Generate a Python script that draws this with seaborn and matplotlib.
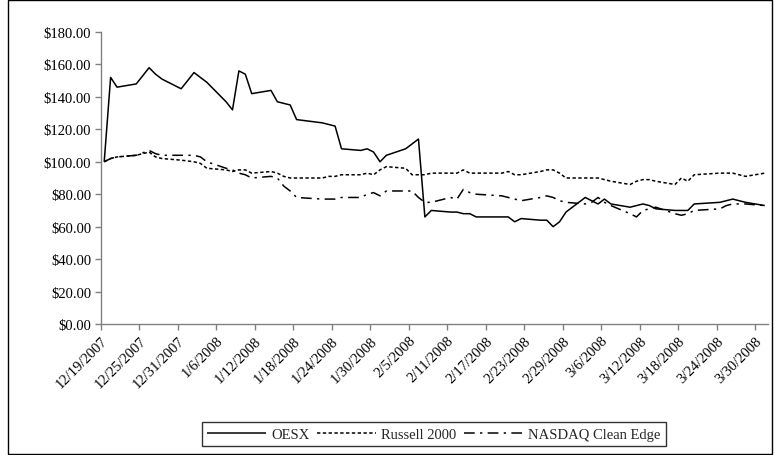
import matplotlib
matplotlib.use("Agg")
import matplotlib.pyplot as plt
import seaborn as sns
import pandas as pd
import numpy as np
from matplotlib.patches import Rectangle

dates = ["2007-12-19","2007-12-20","2007-12-21","2007-12-24","2007-12-26","2007-12-27","2007-12-28","2007-12-31",
         "2008-01-02","2008-01-03","2008-01-04","2008-01-07","2008-01-08","2008-01-09","2008-01-10","2008-01-11",
         "2008-01-14","2008-01-15","2008-01-16","2008-01-17","2008-01-18","2008-01-22","2008-01-23","2008-01-24",
         "2008-01-25","2008-01-28","2008-01-29","2008-01-30","2008-01-31","2008-02-01","2008-02-04","2008-02-05",
         "2008-02-06","2008-02-07","2008-02-08","2008-02-11","2008-02-12","2008-02-13","2008-02-14","2008-02-15",
         "2008-02-19","2008-02-20","2008-02-21","2008-02-22","2008-02-25","2008-02-26","2008-02-27","2008-02-28",
         "2008-02-29","2008-03-03","2008-03-04","2008-03-05","2008-03-06","2008-03-07","2008-03-10","2008-03-11",
         "2008-03-12","2008-03-13","2008-03-14","2008-03-17","2008-03-18","2008-03-19","2008-03-20","2008-03-24",
         "2008-03-25","2008-03-26","2008-03-27","2008-03-28","2008-03-31"]

oesx = [100,152,146,148,158,154,151,145,
        155,152,149,137,132,156,154,142,
        144,137,136,135,126,124,123,122,
        108,107,108,106,100,104,108,111,
        114,66,70,69,69,68,68,66,
        66,66,63,65,64,64,60,63,
        69,78,76,74,77,74,72,73,
        74,73,71,70,70,70,74,75,
        76,77,76,75,73]

russell = [100,102,103,104,106,103,102,101,
           100,99,96,95,94,95,95,93,
           94,93,91,90,90,90,91,91,
           92,92,93,92,95,97,96,92,
           92,92,93,93,93,95,93,93,
           93,94,92,92,94,95,95,93,
           90,90,90,90,89,88,86,88,
           89,89,88,86,90,88,92,93,
           93,93,92,91,93]

nasdaq = [100,102,103,104,107,105,104,104,
          104,103,100,96,95,93,92,90,
          91,90,85,82,78,77,77,77,
          78,78,80,81,79,82,82,82,
          78,75,75,78,77,83,81,80,
          79,78,77,76,78,79,78,76,
          75,74,75,78,75,73,68,66,
          70,71,72,68,67,68,70,71,
          73,74,74,74,73]

series_names = ["OESX", "Russell 2000", "NASDAQ Clean Edge"]

start = pd.Timestamp("2007-12-19")
end = pd.Timestamp("2008-03-31")
day = [(pd.Timestamp(d) - start).days for d in dates]
ndays = (end - start).days

sns.set_theme(style="white")
plt.rcParams['font.family'] = ['Liberation Serif', 'DejaVu Serif']

fig = plt.figure(figsize=(7.74, 4.56), dpi=100)
ax = fig.add_axes([101/774, 1-325/456, (768-101)/774, (325-33)/456])

styles = {
    "OESX": (0, ()),
    "Russell 2000": (0, (2.2, 1.6)),
    "NASDAQ Clean Edge": (0, (7, 3.5, 1.5, 3.5)),
}
data = {"OESX": oesx, "Russell 2000": russell, "NASDAQ Clean Edge": nasdaq}
for name in series_names:
    df = pd.DataFrame({"day": day, "value": data[name]})
    sns.lineplot(data=df, x="day", y="value", ax=ax, color="black", lw=1.1,
                 linestyle=styles[name], label=name, legend=False)

ax.set_xlim(-0.5, ndays + 0.5)
ax.set_ylim(0, 180)
ax.set_yticks(np.arange(0, 181, 20))
ax.set_yticklabels([f"${v:.2f}" for v in np.arange(0, 181, 20)], fontsize=10.5)
tick_days = list(range(0, ndays + 1, 6))
ax.set_xticks([t - 0.5 for t in tick_days])
tick_labels = []
for t in tick_days:
    d = start + pd.Timedelta(days=t)
    tick_labels.append(f"{d.month}/{d.day}/{d.year}")
ax.set_xticklabels(tick_labels, rotation=45, ha="right", rotation_mode="anchor", fontsize=10.5)
ax.set_xlabel("")
ax.set_ylabel("")
for s in ["top", "right"]:
    ax.spines[s].set_visible(False)
for s in ["left", "bottom"]:
    ax.spines[s].set_color("#808080")
    ax.spines[s].set_linewidth(1.0)
ax.tick_params(axis="both", which="both", direction="out", length=4, width=1, color="#808080",
               left=True, bottom=True, labelcolor="black", pad=3)
ax.grid(False)

leg = fig.legend(*ax.get_legend_handles_labels(), loc="center", bbox_to_anchor=(434/774, 1-435/456),
                 ncol=3, frameon=True, fancybox=False, fontsize=10.5, handlelength=4.0,
                 columnspacing=0.5, handletextpad=0.4, borderpad=0.35, edgecolor="black")
leg.get_frame().set_linewidth(1.0)

fig.patches.append(Rectangle((8/774, 1/456), 764/774, 454/456, transform=fig.transFigure,
                             fill=False, edgecolor="black", lw=1.0))

fig.savefig("out.png", dpi=100)
